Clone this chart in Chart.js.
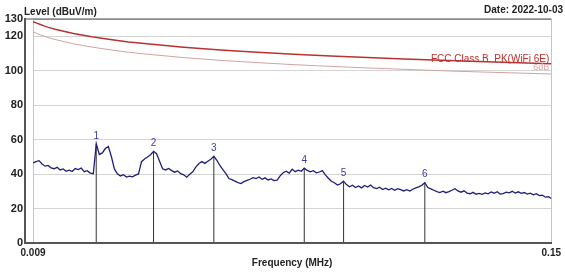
<!DOCTYPE html>
<html>
<head>
    <title>Emission Scan</title>
    <meta charset="utf-8">
    <script src="https://cdn.jsdelivr.net/npm/chart.js@4.4.1/dist/chart.umd.min.js"></script>
    <style>
      body { margin: 0; background: #fff; }
      .chart-container { position: relative; width: 565px; height: 275px; }
    </style>
</head>
<body>
    <div class="chart-container">
        <canvas id="chart"></canvas>
    </div>

    <script>
        // sweep: 0.009 .. 0.15 MHz, one reading every 0.00082 MHz
        const sweepStartMHz = 0.009;
        const sweepStepMHz = 0.00082;
        const levels = [
            46.5, 47.2, 47.8, 45.9, 44.6, 45.0, 43.6, 43.1, 43.9, 42.4,
            43.0, 41.6, 42.3, 41.5, 43.2, 42.6, 43.5, 41.4, 42.0, 40.6,
            40.2, 57.6, 51.4, 52.3, 54.8, 56.0, 50.2, 43.0, 40.1, 38.9,
            39.6, 38.3, 38.8, 38.4, 39.4, 40.1, 47.2, 48.8, 49.9, 51.2,
            53.2, 51.8, 47.5, 43.1, 42.4, 43.3, 42.0, 41.1, 41.8, 40.2,
            39.6, 38.2, 39.9, 41.3, 44.0, 46.0, 47.3, 46.2, 47.4, 48.6,
            50.3, 48.0, 45.0, 42.6, 40.3, 37.4, 36.8, 35.9, 35.0, 34.5,
            35.6, 36.3, 37.0, 37.9, 37.4, 38.3, 37.0, 37.8, 36.6, 37.2,
            36.2, 36.5, 39.0, 40.8, 41.7, 40.6, 42.8, 41.4, 42.3, 41.6,
            43.4, 42.1, 41.3, 42.0, 40.7, 41.2, 42.0, 39.5, 37.6, 35.8,
            35.0, 33.6, 34.4, 35.9, 33.9, 32.6, 33.5, 32.2, 33.1, 32.0,
            33.4, 32.5, 33.6, 32.1, 31.6, 32.4, 31.0, 31.8, 30.9, 31.7,
            30.6, 31.5, 31.0, 30.2, 30.9, 30.1, 31.2, 32.0, 32.6, 33.5,
            35.0, 32.2, 31.4, 30.6, 29.8, 29.3, 30.1, 29.2, 29.8, 30.6,
            31.5, 30.2, 29.5, 30.3, 29.0, 28.6, 29.4, 28.3, 28.8, 28.2,
            29.1, 28.5, 29.6, 28.9, 29.8, 28.4, 28.7, 29.5, 29.1, 30.0,
            29.0, 29.7, 28.8, 29.3, 28.4, 28.9, 28.0, 28.6, 27.5, 27.8,
            26.6, 26.9, 25.8
        ];

        // FCC Class B limit line and the 6dB margin below it
        const limitFreqs = [0.009, 0.010, 0.011, 0.012, 0.013, 0.015, 0.020, 0.025, 0.030, 0.035, 0.040,
                            0.050, 0.060, 0.070, 0.080, 0.090, 0.100, 0.110, 0.120, 0.130, 0.150];
        const limitValues = [128.5, 127.6, 126.8, 126.0, 125.3, 124.1, 121.6, 119.7, 118.1, 116.7, 115.6,
                             113.6, 112.0, 110.7, 109.5, 108.5, 107.6, 106.8, 106.0, 105.3, 104.1];
        const marginValues = [122.5, 121.6, 120.8, 120.0, 119.3, 118.1, 115.6, 113.7, 112.1, 110.7, 109.6,
                              107.6, 106.0, 104.7, 103.5, 102.5, 101.6, 100.8, 100.0, 99.3, 98.1];

        // peak markers
        const markerNames = ['1', '2', '3', '4', '5', '6'];
        const markerFreqs = [0.0262, 0.0418, 0.0582, 0.0828, 0.0935, 0.1156];
        const markerLevels = [57.6, 53.2, 50.3, 43.4, 35.9, 35.0];

        const yTicks = [0, 20, 40, 60, 80, 100, 120, 130];
        const xTicks = [0.009, 0.15];

        const fontFamily = "'Liberation Sans', Arial, sans-serif";
        Chart.defaults.font.family = fontFamily;

        let traceData = levels.map((v, i) => ({ x: sweepStartMHz + i * sweepStepMHz, y: v }));
        let limitData = limitFreqs.map((f, i) => ({ x: f, y: limitValues[i] }));
        let marginData = limitFreqs.map((f, i) => ({ x: f, y: marginValues[i] }));
        let markerData = [];
        markerFreqs.forEach((f, i) => {
            markerData.push({ x: f, y: 0 }, { x: f, y: markerLevels[i] }, { x: f, y: null });
        });

        const axisGap = 8; // dark axis sits a little left of the plot area

        const framePlugin = {
            id: 'frame',
            afterDraw(chart) {
                const c = chart.ctx;
                const a = chart.chartArea;
                const xs = chart.scales.x, ys = chart.scales.y;
                const ax = a.left - axisGap;
                c.save();
                // frame
                c.strokeStyle = '#8a8a8a';
                c.lineWidth = 1.5;
                c.beginPath();
                c.moveTo(ax, a.top); c.lineTo(a.right, a.top);
                c.stroke();
                c.strokeStyle = '#555';
                c.lineWidth = 2;
                c.beginPath();
                c.moveTo(ax, a.top - 1); c.lineTo(ax, a.bottom);
                c.lineTo(a.right, a.bottom);
                c.stroke();

                // titles
                c.fillStyle = '#222';
                c.font = 'bold 10px ' + fontFamily;
                c.textBaseline = 'alphabetic';
                c.textAlign = 'left';
                c.fillText('Level (dBuV/m)', 24, 15);
                c.textAlign = 'right';
                c.fillText('Date: 2022-10-03', 563, 12.5);
                c.textAlign = 'center';
                c.textBaseline = 'middle';
                c.fillText('Frequency (MHz)', (a.left + a.right) / 2, 263);

                // limit labels
                c.textAlign = 'right';
                c.textBaseline = 'alphabetic';
                c.font = '10px ' + fontFamily;
                c.fillStyle = '#c03030';
                c.fillText('FCC Class B  PK(WiFi 6E)', a.right - 2, ys.getPixelForValue(limitValues[limitValues.length - 1]) - 2);
                c.font = '9px ' + fontFamily;
                c.fillStyle = '#e0a8a8';
                c.fillText('6dB', a.right - 2, ys.getPixelForValue(marginValues[marginValues.length - 1]) - 4);

                // marker numbers
                c.textAlign = 'center';
                c.textBaseline = 'bottom';
                c.font = '10px ' + fontFamily;
                c.fillStyle = '#3c3ca0';
                markerNames.forEach((name, i) => {
                    c.fillText(name, xs.getPixelForValue(markerFreqs[i]), ys.getPixelForValue(markerLevels[i]) - 3);
                });
                c.restore();
            }
        };

        let ctx = document.getElementById('chart').getContext('2d');
        let chart = new Chart(ctx, {
            type: 'line',
            data: {
                datasets: [{
                    label: 'Trace',
                    data: traceData,
                    borderColor: '#1f1f7a',
                    borderWidth: 1.3,
                    pointRadius: 0,
                    tension: 0
                }, {
                    label: 'Limit',
                    data: limitData,
                    borderColor: '#b83232',
                    borderWidth: 1.5,
                    pointRadius: 0
                }, {
                    label: 'Margin',
                    data: marginData,
                    borderColor: '#d2a2a2',
                    borderWidth: 1,
                    pointRadius: 0
                }, {
                    label: 'Markers',
                    data: markerData,
                    borderColor: '#333',
                    borderWidth: 1,
                    pointRadius: 0,
                    spanGaps: false
                }]
            },
            options: {
                responsive: true,
                maintainAspectRatio: false,
                animation: false,
                layout: { padding: { top: 19, right: 13, left: 0, bottom: 0 } },
                plugins: {
                    legend: { display: false },
                    tooltip: { enabled: false }
                },
                scales: {
                    x: {
                        type: 'linear',
                        min: 0.009,
                        max: 0.15,
                        afterBuildTicks: axis => { axis.ticks = xTicks.map(v => ({ value: v })); },
                        afterFit: axis => { axis.height = 32; },
                        ticks: {
                            autoSkip: false,
                            maxRotation: 0,
                            padding: 4,
                            color: '#222',
                            font: { size: 10, weight: 'bold' },
                            callback: v => String(v)
                        },
                        grid: { color: '#c4c4c4', drawTicks: false },
                        border: { color: '#555', width: 2 }
                    },
                    y: {
                        min: 0,
                        max: 130,
                        afterBuildTicks: axis => { axis.ticks = yTicks.map(v => ({ value: v })); },
                        afterFit: axis => { axis.width = 33; },
                        ticks: {
                            padding: 10,
                            color: '#222',
                            font: { size: 11, weight: 'bold' }
                        },
                        grid: {
                            drawTicks: false,
                            color: c => c.tick && c.tick.value === 130 ? '#8a8a8a' : '#d4d4d4'
                        },
                        border: { color: '#c4c4c4', width: 1 }
                    }
                }
            },
            plugins: [framePlugin]
        });
    </script>
</body>
</html>
